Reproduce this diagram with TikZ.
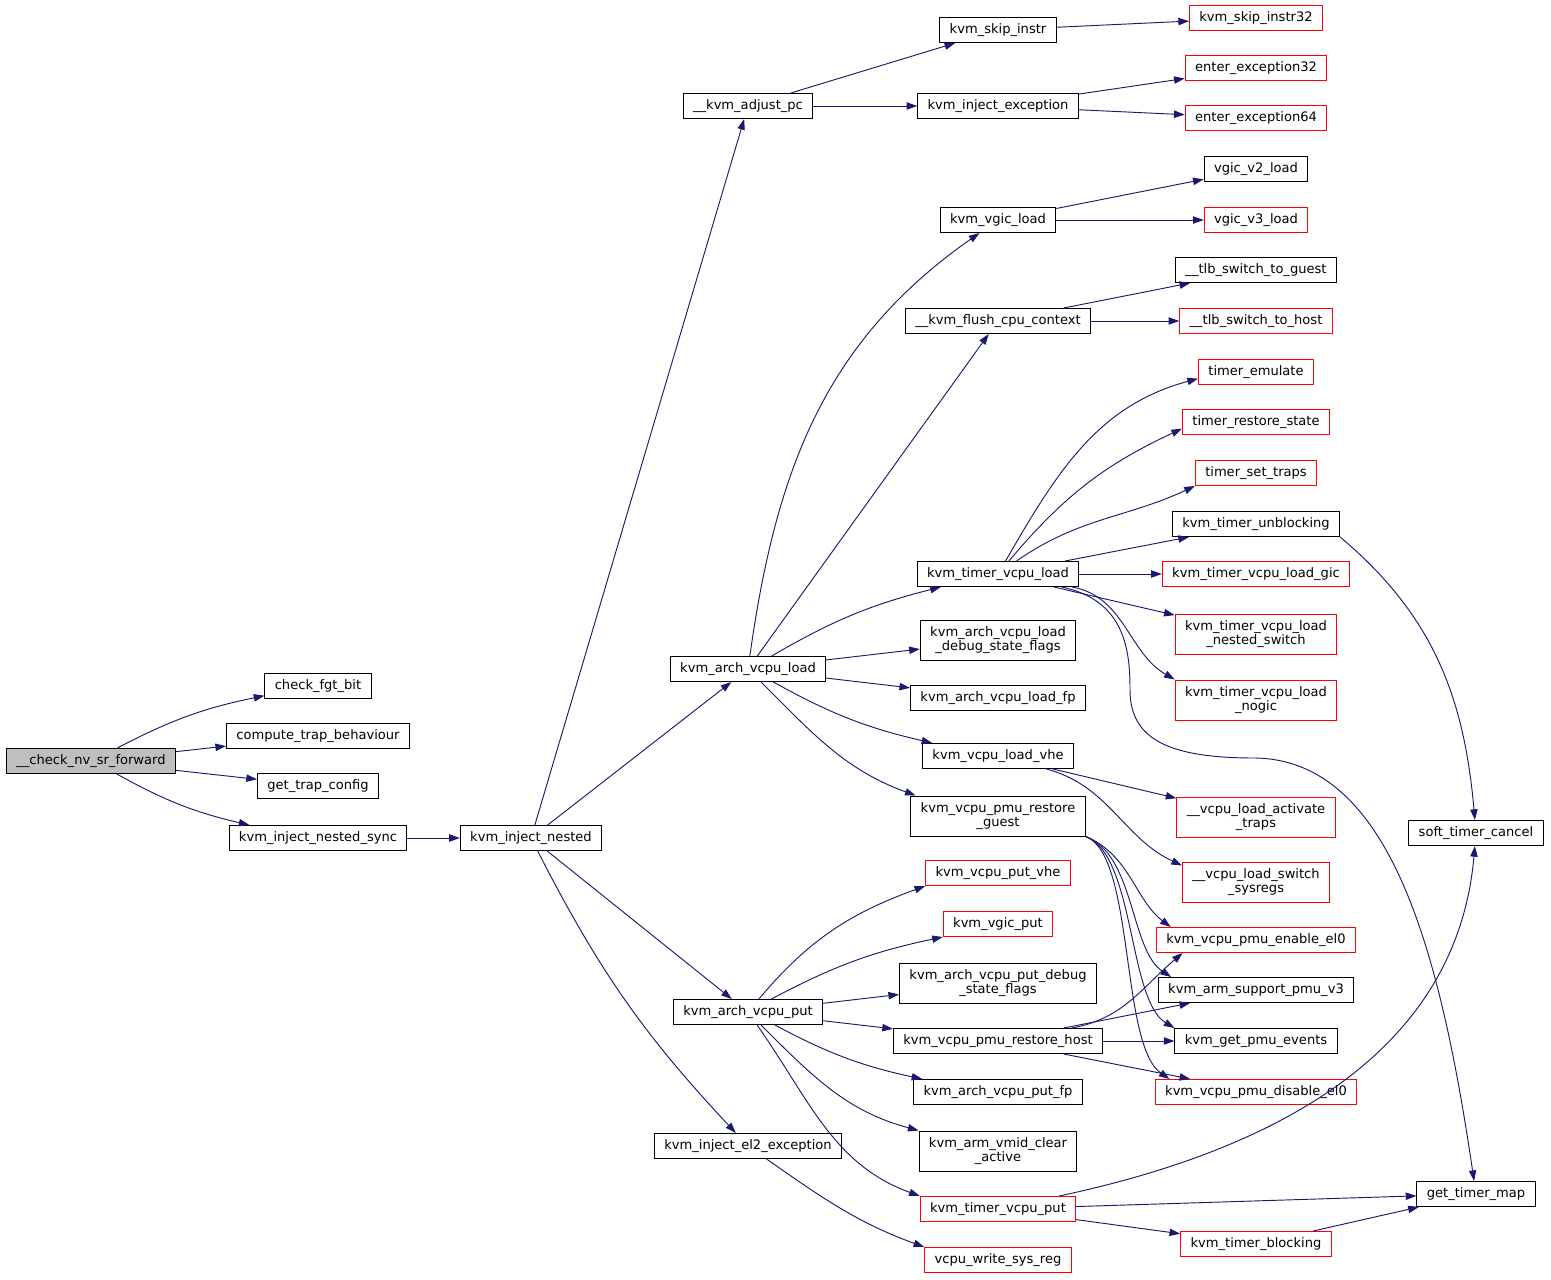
\documentclass[tikz,border=0pt]{standalone}
\usepackage{fontspec}
\setmainfont{DejaVu Sans}
\usepackage{tikz}
\usetikzlibrary{arrows.meta}
\definecolor{edgeblue}{HTML}{191970}
\definecolor{rootgray}{HTML}{BFBFBF}
\begin{document}
\begin{tikzpicture}[x=0.75pt, y=-0.75pt, >={Triangle[length=8pt,width=5.5pt]},
    fn/.style={draw=black, fill=white, line width=0.75pt, font=\fontsize{9.8}{10.2}\selectfont,
               inner xsep=7.4pt, inner ysep=2pt, minimum height=18.75pt, align=center},
    ext/.style={fn, draw=red},
    two/.style={minimum height=30pt},
    call/.style={->, color=edgeblue, line width=0.7pt}]
    \useasboundingbox (0,0) rectangle (1551,1280);

    % Nodes, left to right
    \node [fn, fill=rootgray]   (fwd) at (91,761)    {\_\_check\_nv\_sr\_forward};
    \node [fn]                  (fgt) at (318,686)   {check\_fgt\_bit};
    \node [fn]                  (ctb) at (318,736)   {compute\_trap\_behaviour};
    \node [fn]                  (gtc) at (318,786)   {get\_trap\_config};
    \node [fn]                  (ins) at (318,838)   {kvm\_inject\_nested\_sync};
    \node [fn]                  (inj) at (531,838)   {kvm\_inject\_nested};

    \node [fn]                  (adj) at (748,106)   {\_\_kvm\_adjust\_pc};
    \node [fn]                  (avl) at (748,669)   {kvm\_arch\_vcpu\_load};
    \node [fn]                  (avp) at (748,1012)  {kvm\_arch\_vcpu\_put};
    \node [fn]                  (el2) at (748,1146)  {kvm\_inject\_el2\_exception};

    \node [fn]                  (ski) at (998,30)    {kvm\_skip\_instr};
    \node [fn]                  (iex) at (998,106)   {kvm\_inject\_exception};
    \node [fn]                  (vgl) at (998,220)   {kvm\_vgic\_load};
    \node [fn]                  (fcc) at (998,321)   {\_\_kvm\_flush\_cpu\_context};
    \node [fn]                  (tvl) at (998,574)   {kvm\_timer\_vcpu\_load};
    \node [fn, two]             (dsf) at (998,640)   {kvm\_arch\_vcpu\_load\\\_debug\_state\_flags};
    \node [fn]                  (lfp) at (998,698)   {kvm\_arch\_vcpu\_load\_fp};
    \node [fn]                  (lvh) at (998,756)   {kvm\_vcpu\_load\_vhe};
    \node [fn, two]             (rpg) at (998,816)   {kvm\_vcpu\_pmu\_restore\\\_guest};
    \node [ext]                 (pvh) at (998,873)   {kvm\_vcpu\_put\_vhe};
    \node [ext]                 (vgp) at (998,924)   {kvm\_vgic\_put};
    \node [fn, two]             (pdf) at (998,983)   {kvm\_arch\_vcpu\_put\_debug\\\_state\_flags};
    \node [fn]                  (prh) at (998,1041)  {kvm\_vcpu\_pmu\_restore\_host};
    \node [fn]                  (pfp) at (998,1092)  {kvm\_arch\_vcpu\_put\_fp};
    \node [fn, two]             (vca) at (998,1151)  {kvm\_arm\_vmid\_clear\\\_active};
    \node [ext]                 (tvp) at (998,1209)  {kvm\_timer\_vcpu\_put};
    \node [ext]                 (wsr) at (998,1260)  {vcpu\_write\_sys\_reg};

    \node [ext]                 (s32) at (1256,18)   {kvm\_skip\_instr32};
    \node [ext]                 (e32) at (1256,68)   {enter\_exception32};
    \node [ext]                 (e64) at (1256,118)  {enter\_exception64};
    \node [fn]                  (v2)  at (1256,169)  {vgic\_v2\_load};
    \node [ext]                 (v3)  at (1256,220)  {vgic\_v3\_load};
    \node [fn]                  (tsg) at (1256,270)  {\_\_tlb\_switch\_to\_guest};
    \node [ext]                 (tsh) at (1256,321)  {\_\_tlb\_switch\_to\_host};
    \node [ext]                 (tem) at (1256,372)  {timer\_emulate};
    \node [ext]                 (trs) at (1256,422)  {timer\_restore\_state};
    \node [ext]                 (tst) at (1256,473)  {timer\_set\_traps};
    \node [fn]                  (tub) at (1256,524)  {kvm\_timer\_unblocking};
    \node [ext]                 (tlg) at (1256,574)  {kvm\_timer\_vcpu\_load\_gic};
    \node [ext, two]            (tns) at (1256,634)  {kvm\_timer\_vcpu\_load\\\_nested\_switch};
    \node [ext, two]            (tng) at (1256,700)  {kvm\_timer\_vcpu\_load\\\_nogic};
    \node [ext, two]            (lat) at (1256,817)  {\_\_vcpu\_load\_activate\\\_traps};
    \node [ext, two]            (lss) at (1256,882)  {\_\_vcpu\_load\_switch\\\_sysregs};
    \node [ext]                 (pen) at (1256,940)  {kvm\_vcpu\_pmu\_enable\_el0};
    \node [fn]                  (spv) at (1256,990)  {kvm\_arm\_support\_pmu\_v3};
    \node [fn]                  (gpe) at (1256,1041) {kvm\_get\_pmu\_events};
    \node [ext]                 (pdi) at (1256,1092) {kvm\_vcpu\_pmu\_disable\_el0};
    \node [ext]                 (tbl) at (1256,1244) {kvm\_timer\_blocking};

    \node [fn]                  (stc) at (1476,833)  {soft\_timer\_cancel};
    \node [fn]                  (gtm) at (1476,1194) {get\_timer\_map};

    % Paths
    \path [call] (fwd) edge [bend left=8]            (fgt);
    \path [call] (fwd) edge                          (ctb);
    \path [call] (fwd) edge                          (gtc);
    \path [call] (fwd) edge [bend right=8]           (ins);
    \path [call] (ins) edge                          (inj);

    \path [call] (inj) edge                          (adj);
    \path [call] (inj) edge                          (avl);
    \path [call] (inj) edge                          (avp);
    \path [call] (inj) edge [bend right=8]           (el2);

    \path [call] (adj) edge                          (ski);
    \path [call] (adj) edge                          (iex);
    \path [call] (ski) edge                          (s32);
    \path [call] (iex) edge                          (e32);
    \path [call] (iex) edge                          (e64);

    \path [call] (avl) edge [out=82, in=215]         (vgl);
    \path [call] (avl) edge                          (fcc);
    \path [call] (avl) edge [bend left=8]            (tvl);
    \path [call] (avl) edge                          (dsf);
    \path [call] (avl) edge                          (lfp);
    \path [call] (avl) edge [bend right=8]           (lvh);
    \path [call] (avl) edge [out=-45, in=160]        ([xshift=4pt]rpg.north west);

    \path [call] (vgl) edge                          (v2);
    \path [call] (vgl) edge                          (v3);
    \path [call] (fcc) edge                          (tsg);
    \path [call] (fcc) edge                          (tsh);

    \path [call] (tvl) edge [out=60, in=195]         ([yshift=-5pt]tem.west);
    \path [call] (tvl) edge [out=50, in=205]         ([yshift=-5pt]trs.west);
    \path [call] (tvl) edge [out=35, in=205]         (tst.south west);
    \path [call] (tvl) edge                          (tub);
    \path [call] (tvl) edge                          (tlg);
    \path [call] (tvl) edge                          (tns);
    \path [call] (tvl) edge [out=-10, in=150]        (tng.north west);
    \draw [call] (tvl) .. controls (1125,600) and (1130,650) .. (1130,690)
                       .. controls (1130,740) and (1170,758) .. (1255,758)
                       .. controls (1390,760) and (1440,950) .. (gtm);
    \path [call] (tub.south east) edge [out=-40, in=95] (stc);

    \path [call] (lvh) edge                          (lat);
    \path [call] (lvh) edge [out=-15, in=155]        ([yshift=-3pt]lss.north west);

    \draw [call] (rpg.south east) .. controls (1130,855) and (1135,900) .. ([xshift=11pt]pen.north west);
    \draw [call] (rpg.south east) .. controls (1135,855) and (1130,950) .. ([xshift=10pt]spv.north west);
    \draw [call] (rpg.south east) .. controls (1135,855) and (1128,1000) .. (gpe.north west);
    \draw [call] (rpg.south east) .. controls (1135,855) and (1120,1045) .. ([xshift=11pt]pdi.north west);

    \path [call] (avp) edge [out=50, in=200]         (pvh.south west);
    \path [call] (avp) edge [bend left=8]            (vgp.south west);
    \path [call] (avp) edge                          (pdf);
    \path [call] (avp) edge                          (prh);
    \path [call] (avp) edge [bend right=8]           (pfp);
    \path [call] (avp) edge [out=-45, in=165]        (vca.north west);
    \path [call] (avp) edge [out=-55, in=160]        (tvp.north west);

    \path [call] (prh) edge [out=10, in=220]         ([xshift=20pt]pen.south west);
    \path [call] (prh) edge                          (spv);
    \path [call] (prh) edge                          (gpe);
    \path [call] (prh) edge                          (pdi);

    \path [call] (tvp) edge [out=12, in=-95]         (stc);
    \path [call] (tvp) edge                          (gtm);
    \path [call] (tvp) edge                          (tbl);
    \path [call] (tbl) edge                          (gtm);

    \path [call] (el2) edge [out=-35, in=160]        (wsr.north west);
\end{tikzpicture}
\end{document}
